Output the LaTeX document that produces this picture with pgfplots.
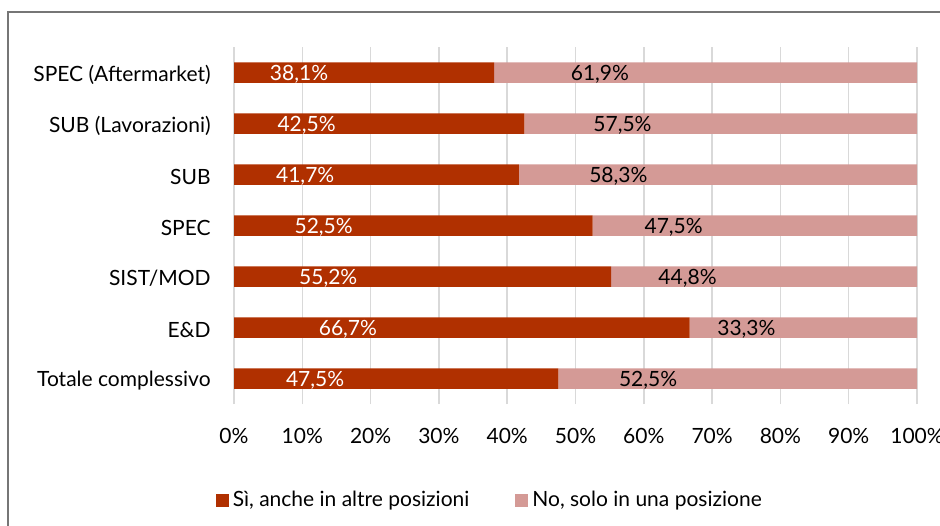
\documentclass[border=0pt]{standalone}
\usepackage{pgfplots}
\pgfplotsset{compat=1.18}
\usepackage{fontspec}
\setmainfont{Lato}
\definecolor{cSi}{RGB}{176,48,0}
\definecolor{cNo}{RGB}{212,154,150}
\definecolor{gridc}{RGB}{217,217,217}
\definecolor{framec}{RGB}{118,118,118}
\pgfplotstableread{
y si no
0 47.5 52.5
1 66.7 33.3
2 55.2 44.8
3 52.5 47.5
4 41.7 58.3
5 42.5 57.5
6 38.1 61.9
}\datatable
\begin{document}
\fontsize{10.5}{12}\selectfont
\begin{tikzpicture}
\useasboundingbox (0pt,0pt) rectangle (470pt,262.5pt);
\draw[framec, line width=0.6pt] (4pt,-10pt) -- (4pt,256.5pt) -- (490pt,256.5pt);
\begin{axis}[
  at={(117pt,60.5pt)}, anchor=south west,
  scale only axis, width=341.5pt, height=178.5pt,
  clip=false,
  xbar stacked, bar width=10.25pt,
  xmin=0, xmax=100, ymin=-0.5, ymax=6.5,
  ytick={0,...,6},
  yticklabels={Totale complessivo,E\&D,SIST/MOD,SPEC,SUB,SUB (Lavorazioni),SPEC (Aftermarket)},
  xtick={0,10,...,100},
  xticklabel={\pgfmathprintnumber{\tick}\%},
  /pgf/number format/assume math mode=true,
  xmajorgrids, major grid style={gridc, line width=0.75pt},
  axis line style={draw=none}, major tick length=0pt,
  xticklabel style={yshift=-8.5pt},
  yticklabel style={xshift=-8pt, yshift=-1pt},
  tick label style={font=\fontsize{10.5}{12}\selectfont},
  point meta=rawx,
  visualization depends on={rawx \as \rawx},
  nodes near coords={\pgfmathprintnumber[fixed,fixed zerofill,precision=1,use comma]{\pgfplotspointmeta}\%},
  every node near coord/.append style={anchor=center, yshift=-1pt, shift={(axis direction cs:-0.25*\rawx,0)}, font=\fontsize{10.5}{12}\selectfont},
  legend style={at={(0.376,-0.27)}, anchor=center, draw=none, fill=none, legend columns=2,
    font=\fontsize{10.5}{12}\selectfont,
    /tikz/every even column/.append style={column sep=21pt}},
  legend image code/.code={\fill[#1] (0pt,-3.25pt) rectangle (6.5pt,3.25pt);},
]
\addplot[fill=cSi, draw=none, every node near coord/.append style={text=white}] table[x=si, y=y] {\datatable};
\addlegendentry{Sì, anche in altre posizioni}
\addplot[fill=cNo, draw=none, every node near coord/.append style={text=black}] table[x=no, y=y] {\datatable};
\addlegendentry{No, solo in una posizione}
\end{axis}
\end{tikzpicture}
\end{document}
